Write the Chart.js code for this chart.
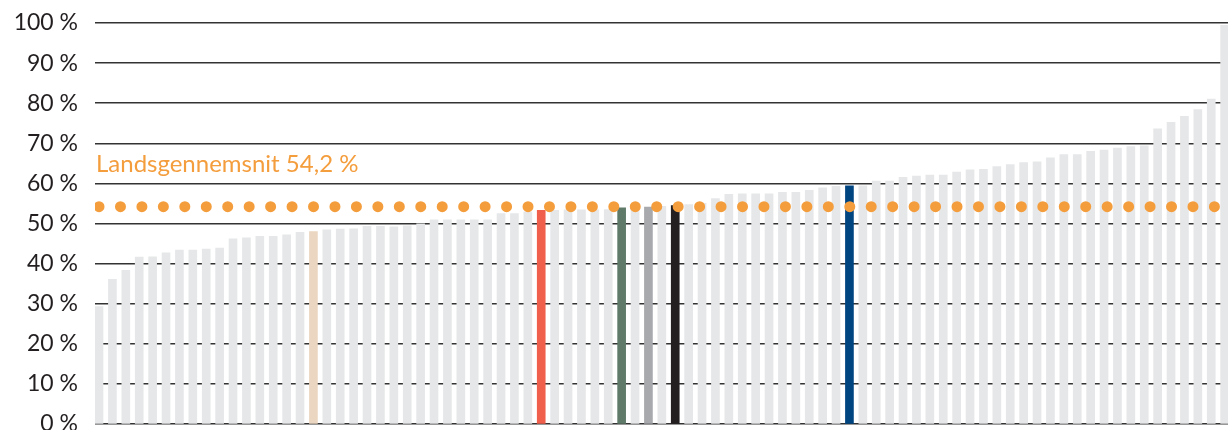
<!DOCTYPE html>
<html>
<head>
<meta charset="utf-8">
<script src="https://cdn.jsdelivr.net/npm/chart.js@4"></script>
<style>
  html, body { margin: 0; padding: 0; background: #fff; }
  #wrap { width: 1228px; height: 430px; position: relative; }
</style>
</head>
<body>
<div id="wrap"><canvas id="andelChart"></canvas></div>
<script>
// Andel pr. kommune, sorteret stigende
const values = [
  29.3, 36.1, 38.3, 41.6, 41.7, 42.7, 43.4, 43.4, 43.6, 43.9,
  46.2, 46.4, 46.8, 46.8, 47.2, 47.8, 48.0, 48.4, 48.6, 48.7,
  49.3, 49.3, 49.2, 49.4, 49.9, 50.9, 50.9, 50.9, 50.9, 50.9,
  52.5, 52.5, 52.9, 53.3, 53.3, 53.4, 53.4, 53.4, 53.5, 53.9,
  54.0, 54.1, 54.3, 54.5, 54.7, 55.0, 56.2, 57.3, 57.4, 57.4,
  57.4, 57.8, 57.8, 58.3, 58.9, 59.3, 59.4, 59.4, 60.6, 60.6,
  61.5, 61.8, 62.1, 62.1, 62.8, 63.4, 63.5, 64.2, 64.7, 65.2,
  65.4, 66.4, 67.2, 67.2, 68.0, 68.3, 68.8, 69.2, 69.4, 73.6,
  75.2, 76.7, 78.4, 81.0, 99.4
];
// Fremhævede søjler (placering i rækkefølgen) og deres farver
const highlightIdx = [16, 33, 39, 41, 43, 56];
const highlightColors = ['#ebd6c1', '#f05f4c', '#5f7a69', '#a7a9ac', '#231f20', '#004480'];
const baseColor = '#e6e7e8';

const average = 54.2;
const averageLabel = 'Landsgennemsnit 54,2 %';
const yTickLabels = ['0 %', '10 %', '20 %', '30 %', '40 %', '50 %', '60 %', '70 %', '80 %', '90 %', '100 %'];

const orange = '#f49d3d';
const textColor = '#231f20';

const barColors = values.map((v, i) => {
  const h = highlightIdx.indexOf(i);
  return h >= 0 ? highlightColors[h] : baseColor;
});
const barData = values.map((v, i) => ({ x: i, y: v }));
const avgData = [{ x: 0, y: average }, { x: values.length - 1, y: average }];

// tekst over den stiplede gennemsnitslinje
const avgLabelPlugin = {
  id: 'avgLabel',
  afterDatasetsDraw(chart) {
    const { ctx, chartArea, scales } = chart;
    const y = scales.y.getPixelForValue(average);
    ctx.save();
    ctx.font = '24px Lato';
    ctx.fillStyle = orange;
    ctx.textBaseline = 'alphabetic';
    ctx.fillText(averageLabel, chartArea.left + 1, y - 35);
    ctx.restore();
  }
};

const ctx = document.getElementById('andelChart').getContext('2d');
new Chart(ctx, {
  type: 'bar',
  data: {
    datasets: [
      {
        type: 'line',
        data: avgData,
        borderColor: orange,
        borderWidth: 11,
        borderDash: [0, 21.45],
        borderCapStyle: 'round',
        pointRadius: 0,
        order: 0
      },
      {
        data: barData,
        backgroundColor: barColors,
        barThickness: 8,
        order: 1
      }
    ]
  },
  options: {
    responsive: true,
    maintainAspectRatio: false,
    animation: false,
    layout: { padding: { top: 23, bottom: 6, left: 0, right: 0 } },
    plugins: { legend: { display: false }, tooltip: { enabled: false } },
    scales: {
      x: {
        type: 'linear',
        display: false,
        offset: false,
        min: -0.3,
        max: 84.25
      },
      y: {
        min: 0,
        max: 100,
        border: { display: false },
        grid: { color: '#333333', lineWidth: 1.4, drawTicks: false },
        ticks: {
          stepSize: 10,
          padding: 17,
          color: textColor,
          font: { family: 'Lato', size: 23 },
          callback: (v, i) => yTickLabels[i]
        },
        afterFit(scale) {
          scale.width = 95;
          scale.paddingTop = 0;
          scale.paddingBottom = 0;
        }
      }
    }
  },
  plugins: [avgLabelPlugin]
});
</script>
</body>
</html>
